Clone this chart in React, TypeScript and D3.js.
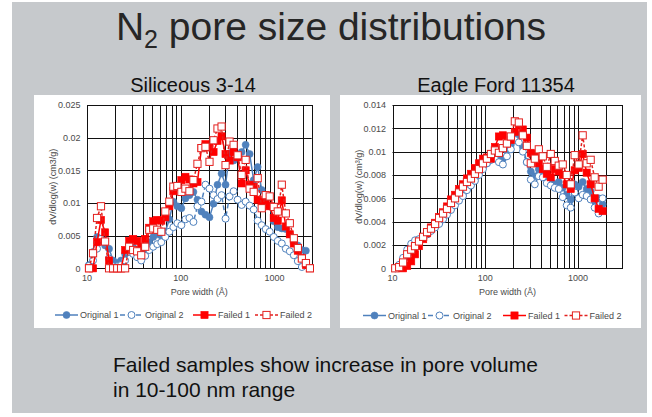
import React from "react";
import * as d3 from "d3";

const FONT = '"Liberation Sans", Arial, Helvetica, sans-serif';

const seriesNames = ["Original 1", "Original 2", "Failed 1", "Failed 2"];

// Siliceous 3-14: pore width (Å) and dV/dlog(w) (cm3/g)
const silWidth = [
  10.5, 11.6, 12.8, 14.1, 15.6, 17.2, 19.0, 21.0, 23.1, 25.5, 28.2, 31.1, 34.3, 37.9,
  41.8, 46.2, 50.9, 56.2, 62.1, 68.5, 75.6, 83.5, 92.1, 101.6, 112.2, 123.9, 136.7,
  150.9, 166.5, 183.8, 202.9, 224, 247, 273, 301, 332, 367, 405, 447, 493, 544, 601,
  663, 732, 808, 891, 984, 1086, 1199, 1323, 1460, 1611, 1778, 1963, 2167, 2392,
];
const silOriginal1 = [
  0.0005, 0.0025, 0.0048, 0.0043, 0.0035, 0.003, 0.0012, 0.0008, 0.0012, 0.0022, 0.003,
  0.0032, 0.0028, 0.0018, 0.0025, 0.004, 0.0048, 0.0052, 0.005, 0.0056, 0.0075, 0.0102,
  0.0095, 0.0092, 0.0107, 0.0112, 0.0117, 0.0105, 0.0087, 0.0082, 0.0078, 0.0099, 0.0128,
  0.0145, 0.0128, 0.0176, 0.0165, 0.017, 0.0178, 0.0189, 0.0175, 0.0135, 0.0155, 0.012,
  0.0105, 0.0095, 0.0072, 0.0063, 0.0061, 0.006, 0.0052, 0.004, 0.0035, 0.0028, 0.0027, null,
];
const silOriginal2 = [
  0.0004, 0.0012, 0.003, 0.0045, 0.0042, 0.0015, 0.0003, 0.0003, 0.0005, 0.0012, 0.0025,
  0.0022, 0.0017, 0.0012, 0.0019, 0.0028, 0.0033, 0.0037, 0.004, 0.0048, 0.0056, 0.0063,
  0.0069, 0.0066, 0.0075, 0.0077, 0.0071, 0.0095, 0.0102, 0.0128, 0.0122, 0.0112, 0.0106,
  0.0112, 0.0076, 0.011, 0.0118, 0.0105, 0.0097, 0.0102, 0.0096, 0.009, 0.0073, 0.0066,
  0.006, 0.0056, 0.0048, 0.0042, 0.0038, 0.003, 0.0026, 0.002, 0.0011, 0.0002, null, null,
];
const silFailed1 = [
  0, 0, 0.004, 0.0074, 0.0055, 0.0012, 0, 0, 0, 0.0028, 0.0042, 0.0045, 0.0042, 0.0033,
  0.0045, 0.0062, 0.0072, 0.0074, 0.0073, 0.0078, 0.0095, 0.0118, 0.0125, 0.0135, 0.014,
  0.0136, 0.013, 0.0132, 0.0184, 0.019, 0.0185, 0.0178, 0.0195, 0.0202, 0.0175, 0.0165,
  0.0178, 0.017, 0.013, 0.015, 0.0128, 0.0125, 0.0105, 0.0102, 0.0098, 0.0095, 0.0077,
  0.0073, 0.0104, 0.0064, 0.0052, 0.0038, 0.0027, 0.0016, 0.0005, 0,
];
const silFailed2 = [
  0, 0.0023, 0.0077, 0.0095, 0.0041, 0, 0, 0, 0, 0, 0.0033, 0.0028, 0.0026, 0.002, 0.0033,
  0.0059, 0.0061, 0.0059, 0.0056, 0.0087, 0.0102, 0.0125, 0.0126, 0.0117, 0.0122, 0.0118,
  0.0135, 0.016, 0.0184, 0.0186, 0.0163, 0.0196, 0.0214, 0.0217, 0.0158, 0.0194, 0.0189,
  0.0173, 0.0143, 0.0166, 0.0122, 0.0117, 0.0138, 0.0092, 0.0112, 0.011, 0.0094, 0.0087,
  0.0128, 0.0084, 0.0069, 0.0046, 0.0031, 0.0015, 0.0008, 0,
];
const silYTicks = [0, 0.005, 0.01, 0.015, 0.02, 0.025];

// Eagle Ford 11354
const eagleWidth = [
  10.7, 11.8, 13.0, 14.4, 15.9, 17.5, 19.3, 21.4, 23.6, 26.0, 28.8, 31.8, 35.1, 38.7, 42.7,
  47.2, 52.1, 57.5, 63.5, 70.1, 77.4, 85.5, 94.4, 104.2, 115.1, 127.0, 140.3, 154.9, 171,
  188.8, 208.4, 230.1, 254, 280.5, 309.7, 342, 377.6, 416.9, 460.3, 508.2, 561, 619.5, 684,
  755, 834, 920, 1016, 1122, 1239, 1368, 1510, 1667, 1841,
];
const eagleOriginal1 = [
  0, 0.0001, 0.0005, 0.001, 0.0014, 0.0018, 0.0022, 0.0026, 0.003, 0.0033, 0.0037, 0.004,
  0.0044, 0.0048, 0.0052, 0.0056, 0.006, 0.0064, 0.0068, 0.0072, 0.0077, 0.0082, 0.0087,
  0.009, 0.0093, 0.0096, 0.0095, 0.0094, 0.0101, 0.0106, 0.0116, 0.0114, 0.0104, 0.0091,
  0.0083, 0.0079, 0.0085, 0.0082, 0.0077, 0.0074, 0.0072, 0.0074, 0.0069, 0.0063, 0.0059,
  0.0072, 0.007, 0.0074, 0.0068, 0.0066, 0.0058, 0.006, 0.0055,
];
const eagleOriginal2 = [
  0, 0.0003, 0.0009, 0.0016, 0.0021, 0.0024, 0.0025, 0.0027, 0.0029, 0.0032, 0.0035, 0.0038,
  0.0042, 0.0046, 0.005, 0.0054, 0.0058, 0.0062, 0.0067, 0.0071, 0.0075, 0.008, 0.0085,
  0.009, 0.0093, 0.0094, 0.0091, 0.0089, 0.0096, 0.0102, 0.011, 0.0108, 0.01, 0.0091,
  0.0076, 0.0072, 0.0079, 0.0078, 0.0073, 0.0071, 0.0069, 0.0068, 0.0061, 0.0054, 0.0052,
  0.0065, 0.006, 0.0063, 0.0062, 0.0059, 0.0052, 0.0047, 0.006,
];
const eagleFailed1 = [
  null, null, 0, 0.0002, 0.0006, 0.0012, 0.0019, 0.0025, 0.003, 0.0035, 0.0039, 0.0044,
  0.0048, 0.0053, 0.0059, 0.0063, 0.0068, 0.0072, 0.0077, 0.0081, 0.0086, 0.009, 0.0094,
  0.0095, 0.0094, 0.0104, 0.0113, 0.0114, 0.0107, 0.011, 0.0117, 0.0123, 0.0119, 0.0112,
  0.0099, 0.0098, 0.009, 0.0085, 0.0081, 0.0078, 0.0085, 0.0083, 0.008, 0.0072, 0.0068,
  0.0084, 0.0086, 0.0098, 0.0082, 0.0072, 0.006, 0.0051, 0.0049,
];
const eagleFailed2 = [
  0, 0.0001, 0.0005, 0.0012, 0.0016, 0.0019, 0.0023, 0.0027, 0.0031, 0.0034, 0.0038, 0.0043,
  0.0047, 0.0051, 0.0056, 0.006, 0.0065, 0.007, 0.0074, 0.0077, 0.0081, 0.0085, 0.009,
  0.0094, 0.0098, 0.0101, 0.0099, 0.0103, 0.0107, 0.0113, 0.0126, 0.0125, 0.0114, 0.0105,
  0.009, 0.0094, 0.0102, 0.0096, 0.0087, 0.0098, 0.0092, 0.0088, 0.0089, 0.008, 0.0072,
  0.0097, 0.0089, 0.0114, 0.009, 0.0093, 0.0078, 0.007, 0.0076,
];
const eagleYTicks = [0, 0.002, 0.004, 0.006, 0.008, 0.01, 0.012, 0.014];

const xLabelTicks = [10, 100, 1000];

type SeriesStyle = {
  color: string;
  dash: string | null;
  marker: "circle" | "square";
  filled: boolean;
};

const seriesStyles: SeriesStyle[] = [
  { color: "#4F81BD", dash: null, marker: "circle", filled: true },
  { color: "#4F81BD", dash: "5,3", marker: "circle", filled: false },
  { color: "#FF0000", dash: null, marker: "square", filled: true },
  { color: "#E3211F", dash: "3,2", marker: "square", filled: false },
];

function Marker({ x, y, s }: { x: number; y: number; s: SeriesStyle }) {
  if (s.marker === "circle") {
    return (
      <circle
        cx={x}
        cy={y}
        r={3.5}
        fill={s.filled ? s.color : "#ffffff"}
        stroke={s.color}
        strokeWidth={s.filled ? 0.6 : 1}
      />
    );
  }
  return (
    <rect
      x={x - 3.6}
      y={y - 3.6}
      width={7.2}
      height={7.2}
      fill={s.filled ? s.color : "#ffffff"}
      stroke={s.color}
      strokeWidth={s.filled ? 0.6 : 1}
    />
  );
}

type ChartProps = {
  panel: { x: number; y: number; w: number; h: number };
  plot: { left: number; right: number; top: number; bottom: number };
  xMax: number;
  yTicks: number[];
  yTitle: React.ReactNode;
  widths: number[];
  values: (number | null)[][];
  legendX: number[];
  legendY: number;
};

function PoreChart({ panel, plot, xMax, yTicks, yTitle, widths, values, legendX, legendY }: ChartProps) {
  const x = d3.scaleLog().domain([10, xMax]).range([plot.left, plot.right]);
  const y = d3
    .scaleLinear()
    .domain([0, yTicks[yTicks.length - 1]])
    .range([plot.bottom, plot.top]);
  const crisp = (v: number) => Math.round(v) + 0.5;
  const gridX = x.ticks().filter((t) => t > 10 && t < xMax);
  const line = d3
    .line<[number, number | null]>()
    .defined((d) => d[1] != null)
    .x((d) => x(d[0]))
    .y((d) => y(d[1] as number));
  const midY = (plot.top + plot.bottom) / 2;
  const midX = (plot.left + plot.right) / 2;

  return (
    <g>
      <rect x={panel.x} y={panel.y} width={panel.w} height={panel.h} fill="#ffffff" />
      {/* grid */}
      {yTicks.map((t) => (
        <line
          key={"gy" + t}
          x1={plot.left}
          x2={plot.right}
          y1={crisp(y(t))}
          y2={crisp(y(t))}
          stroke="#111"
          strokeWidth={1}
        />
      ))}
      {gridX.map((t) => (
        <line
          key={"gx" + t}
          x1={crisp(x(t))}
          x2={crisp(x(t))}
          y1={plot.top}
          y2={plot.bottom}
          stroke="#111"
          strokeWidth={1}
        />
      ))}
      <rect
        x={crisp(plot.left)}
        y={crisp(plot.top)}
        width={Math.round(plot.right) - Math.round(plot.left)}
        height={Math.round(plot.bottom) - Math.round(plot.top)}
        fill="none"
        stroke="#111"
        strokeWidth={1}
      />
      {/* tick labels */}
      {yTicks.map((t) => (
        <text
          key={"ly" + t}
          x={plot.left - 6.5}
          y={y(t) + 3.2}
          textAnchor="end"
          fontSize={9}
          fill="#4a4a4a"
        >
          {String(t)}
        </text>
      ))}
      {xLabelTicks.map((t) => (
        <text key={"lx" + t} x={x(t)} y={plot.bottom + 13} textAnchor="middle" fontSize={9} fill="#4a4a4a">
          {String(t)}
        </text>
      ))}
      <text x={midX} y={plot.bottom + 27} textAnchor="middle" fontSize={9} fill="#4a4a4a">
        Pore width (Å)
      </text>
      <text
        transform={`translate(${plot.left - 34},${midY}) rotate(-90)`}
        textAnchor="middle"
        dy="0.35em"
        fontSize={9}
        fill="#4a4a4a"
      >
        {yTitle}
      </text>
      {/* series */}
      {values.map((vals, i) => {
        const s = seriesStyles[i];
        const pts = widths.map((w, k) => [w, vals[k]] as [number, number | null]);
        return (
          <g key={"s" + i}>
            <path
              d={line(pts) || ""}
              fill="none"
              stroke={s.color}
              strokeWidth={1.5}
              strokeDasharray={s.dash || undefined}
            />
            {pts
              .filter((p) => p[1] != null)
              .map((p, k) => (
                <Marker key={k} x={x(p[0])} y={y(p[1] as number)} s={s} />
              ))}
          </g>
        );
      })}
      {/* legend */}
      {seriesNames.map((name, i) => {
        const s = seriesStyles[i];
        const lx = legendX[i];
        return (
          <g key={"lg" + i}>
            <line
              x1={lx}
              x2={lx + 23}
              y1={legendY}
              y2={legendY}
              stroke={s.color}
              strokeWidth={1.5}
              strokeDasharray={s.dash || undefined}
            />
            <Marker x={lx + 11.5} y={legendY} s={s} />
            <text x={lx + 25} y={legendY + 3.2} fontSize={9} fill="#4a4a4a">
              {name}
            </text>
          </g>
        );
      })}
    </g>
  );
}

export default function App() {
  return (
    <svg
      width={652}
      height={417}
      style={{ position: "absolute", left: 0, top: 0, fontFamily: FONT }}
    >
      <rect x={0} y={0} width={652} height={417} fill="#ffffff" />
      <rect x={12} y={2} width={635} height={411} fill="#c6c9cc" />
      <text x={331} y={40} textAnchor="middle" fontSize={39} fill="#262626">
        N<tspan fontSize={25} dy={8}>2</tspan>
        <tspan dy={-8}> pore size distributions</tspan>
      </text>
      <text x={193} y={92} textAnchor="middle" fontSize={20} fill="#111">
        Siliceous 3-14
      </text>
      <text x={496} y={92} textAnchor="middle" fontSize={20} fill="#111">
        Eagle Ford 11354
      </text>
      <PoreChart
        panel={{ x: 34, y: 95, w: 296, h: 233 }}
        plot={{ left: 87, right: 311.7, top: 105, bottom: 268.3 }}
        xMax={2500}
        yTicks={silYTicks}
        yTitle="dV/dlog(w)  (cm3/g)"
        widths={silWidth}
        values={[silOriginal1, silOriginal2, silFailed1, silFailed2]}
        legendX={[55, 120, 193, 255]}
        legendY={315}
      />
      <PoreChart
        panel={{ x: 340, y: 95, w: 301, h: 233 }}
        plot={{ left: 392.5, right: 622.3, top: 105, bottom: 268.3 }}
        xMax={3000}
        yTicks={eagleYTicks}
        yTitle="dV/dlog(w)  (cm³/g)"
        widths={eagleWidth}
        values={[eagleOriginal1, eagleOriginal2, eagleFailed1, eagleFailed2]}
        legendX={[363, 428, 503, 564.5]}
        legendY={315.5}
      />
      <text x={113} y={372} fontSize={21} fill="#111">
        Failed samples show increase in pore volume
      </text>
      <text x={113} y={397} fontSize={21} fill="#111">
        in 10-100 nm range
      </text>
    </svg>
  );
}
